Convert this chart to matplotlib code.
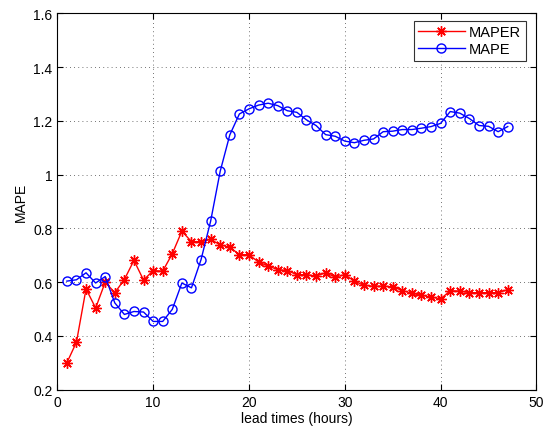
import matplotlib
matplotlib.use("Agg")
import matplotlib.pyplot as plt
import numpy as np

plt.rcParams['font.family'] = ['Liberation Sans', 'DejaVu Sans']

# lead times in hours
hours = np.arange(1, 48)

maper = [0.300, 0.377, 0.575, 0.504, 0.600, 0.561, 0.610, 0.681, 0.608, 0.643,
         0.641, 0.706, 0.790, 0.751, 0.751, 0.759, 0.739, 0.730, 0.703, 0.702,
         0.675, 0.660, 0.647, 0.643, 0.628, 0.628, 0.623, 0.635, 0.619, 0.628,
         0.604, 0.588, 0.585, 0.585, 0.583, 0.569, 0.559, 0.551, 0.545, 0.538,
         0.568, 0.567, 0.561, 0.561, 0.561, 0.561, 0.572]

mape = [0.604, 0.609, 0.635, 0.597, 0.621, 0.523, 0.480, 0.491, 0.489, 0.454,
        0.454, 0.499, 0.597, 0.579, 0.684, 0.827, 1.013, 1.148, 1.226, 1.245,
        1.259, 1.266, 1.257, 1.238, 1.232, 1.204, 1.183, 1.149, 1.143, 1.125,
        1.119, 1.128, 1.133, 1.160, 1.162, 1.168, 1.168, 1.173, 1.179, 1.191,
        1.235, 1.229, 1.209, 1.183, 1.180, 1.160, 1.179]

fig = plt.figure(figsize=(5.43, 4.31), dpi=100)
ax = fig.add_axes([0.1055, 0.0935, 0.8825, 0.873])

# matlab style asterisk marker (+ and x overlaid)
ax.plot(hours, maper, color='red', marker=(8, 2, 0), markersize=7.5,
        markeredgewidth=1.0, linewidth=1.0, label='MAPER')
ax.plot(hours, mape, color='blue', marker='o', markersize=6.5, linewidth=1.0,
        markerfacecolor='none', markeredgewidth=1.0, label='MAPE')

ax.set_xlim(0, 50)
ax.set_ylim(0.2, 1.6)
ax.set_xticks([0, 10, 20, 30, 40, 50])
ax.set_yticks([0.2, 0.4, 0.6, 0.8, 1.0, 1.2, 1.4, 1.6])
ax.set_yticklabels(['0.2', '0.4', '0.6', '0.8', '1', '1.2', '1.4', '1.6'])
ax.tick_params(direction='in', labelsize=10, top=True, right=True, length=4)
ax.grid(True, linestyle=(0, (1, 4)), color='#444444', linewidth=0.6)

ax.set_xlabel('lead times (hours)', fontsize=10, labelpad=2)
ax.set_ylabel('MAPE', fontsize=10)

leg = ax.legend(loc='upper right', bbox_to_anchor=(0.9775, 0.980),
                borderaxespad=0, fancybox=False, fontsize=10.5,
                handlelength=3.2, handletextpad=0.3, labelspacing=0.2,
                borderpad=0.3)
leg.get_frame().set_edgecolor('black')
leg.get_frame().set_linewidth(0.8)

fig.savefig('out.png', dpi=100)
